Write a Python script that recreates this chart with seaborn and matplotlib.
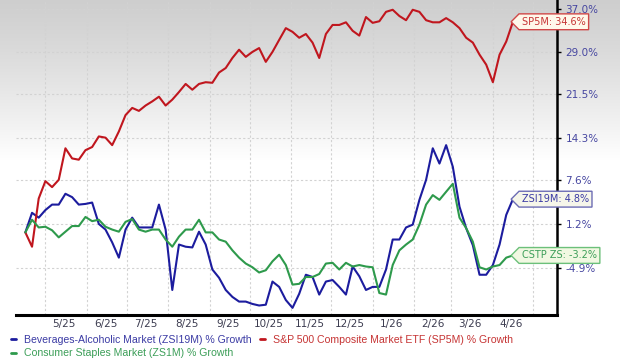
import numpy as np
import pandas as pd
import matplotlib
matplotlib.use("Agg")
import matplotlib.pyplot as plt
import matplotlib.dates as mdates
from matplotlib.path import Path
from matplotlib.lines import Line2D
import seaborn as sns

# sampled every 5 calendar days, mid-April 2025 -> mid-April 2026
dates = pd.date_range("2025-04-16", periods=74, freq="5D")

sp5m = [0.0, -2.0, 4.9, 7.5, 6.6, 7.7, 12.6, 11.0, 10.8, 12.3,
        12.8, 14.5, 14.3, 13.1, 15.3, 18.0, 19.2, 18.7, 19.6, 20.3,
        21.1, 19.6, 20.6, 21.9, 23.3, 22.3, 23.3, 23.6, 23.5, 25.3,
        26.1, 27.9, 29.4, 28.1, 29.0, 29.7, 27.2, 29.0, 31.2, 33.4,
        32.7, 31.6, 32.3, 30.7, 27.9, 32.3, 34.0, 34.0, 34.5, 32.9,
        32.0, 35.5, 34.4, 34.7, 36.5, 36.9, 35.7, 34.9, 36.9, 36.5,
        34.9, 34.5, 34.5, 35.3, 34.5, 33.4, 31.6, 30.7, 28.5, 26.7,
        23.6, 28.5, 30.9, 34.6]

zsi19m = [0.0, 2.8, 2.1, 3.2, 4.0, 4.0, 5.6, 5.1, 4.0, 4.1,
          4.3, 1.2, 0.4, -1.4, -3.5, 0.4, 2.1, 0.7, 0.7, 0.7,
          4.0, 0.4, -7.8, -1.7, -2.0, -2.1, 0.1, -1.7, -5.1, -6.2,
          -7.8, -8.7, -9.3, -9.3, -9.6, -9.8, -9.7, -6.7, -7.4, -9.1,
          -10.1, -8.3, -5.8, -6.1, -8.4, -6.7, -6.5, -7.4, -8.4, -4.7,
          -6.0, -7.8, -7.4, -7.4, -5.1, -1.0, -1.0, 0.7, 1.1, 4.7,
          7.7, 12.6, 10.2, 13.1, 9.7, 3.7, 0.6, -1.8, -5.8, -5.8,
          -4.5, -1.7, 2.5, 4.8]

zs1m = [0.0, 1.8, 0.7, 0.8, 0.3, -0.7, 0.1, 0.9, 0.9, 2.2,
        1.6, 1.8, 0.8, 0.4, 0.1, 1.5, 1.9, 0.4, 0.1, 0.4,
        0.4, -1.0, -2.0, -0.6, 0.4, 0.4, 1.8, 0.0, 0.0, -1.0,
        -1.3, -2.5, -3.5, -4.3, -4.8, -5.5, -5.2, -4.0, -3.1, -4.5,
        -7.1, -7.0, -6.1, -6.1, -5.7, -4.3, -4.2, -5.1, -4.2, -4.7,
        -4.5, -4.7, -4.8, -8.2, -8.4, -4.5, -2.5, -1.7, -1.0, 1.1,
        4.0, 5.4, 4.7, 5.9, 7.1, 2.1, 0.6, -1.3, -4.8, -5.1,
        -4.7, -4.5, -3.5, -3.2]

series_names = [
    "Beverages-Alcoholic Market (ZSI19M) % Growth",
    "S&P 500 Composite Market ETF (SP5M) % Growth",
    "Consumer Staples Market (ZS1M) % Growth",
]
line_colors = ["#1c1c9e", "#c0161e", "#2e9a4c"]
text_colors = ["#3b3ba4", "#c63434", "#3c9e58"]

callout_texts = ["ZSI19M: 4.8%", "SP5M: 34.6%", "CSTP ZS: -3.2%"]
callout_faces = ["#f6f6ea", "#fff8ea", "#f1f8e2"]
callout_edges = ["#6c6cb4", "#d04848", "#6cc07a"]

y_ticks = [37.0, 29.0, 21.5, 14.3, 7.6, 1.2, -4.9]
month_labels = ["5/25", "6/25", "7/25", "8/25", "9/25", "10/25",
                "11/25", "12/25", "1/26", "2/26", "3/26", "4/26"]

df = pd.DataFrame({
    "date": np.tile(dates, 3),
    "growth": zsi19m + sp5m + zs1m,
    "series": np.repeat(series_names, len(dates)),
})

sns.set_style("white")
plt.rcParams["font.family"] = ["DejaVu Sans"]

fig = plt.figure(figsize=(6.2, 3.64), dpi=100)

# grey-to-white backdrop over the top part of the figure
bg = fig.add_axes([0, 0, 1, 1], zorder=-1)
h = 364
ramp = np.ones(h)
fade = 160
ramp[:fade] = 0.81 + 0.19 * (np.arange(fade) / fade) ** 1.2
img = np.repeat(ramp[:, None], 2, axis=1)
bg.imshow(np.stack([img, img, img], axis=-1), aspect="auto",
          extent=[0, 1, 0, 1], transform=bg.transAxes)
bg.set_axis_off()

ax = fig.add_axes([16 / 620, 49 / 364, (557 - 16) / 620, 315 / 364])
ax.set_facecolor("none")

sns.lineplot(data=df, x="date", y="growth", hue="series",
             palette=dict(zip(series_names, line_colors)),
             hue_order=series_names, linewidth=1.5, legend=False, ax=ax)

ax.set_yscale("function", functions=(lambda v: np.log1p(np.asarray(v) / 100),
                                     lambda t: np.expm1(np.asarray(t)) * 100))
ax.set_ylim(-11.0, 38.8)
ax.set_xlim(pd.Timestamp("2025-04-09"), pd.Timestamp("2026-05-19"))

ax.yaxis.tick_right()
ax.set_yticks(y_ticks)
ax.set_yticklabels([f"{v:.1f}%" for v in y_ticks])
ax.tick_params(axis="y", which="major", right=True, length=3, width=1,
               color="black", pad=3, labelsize=7.5, labelcolor="#4646a0")

month_starts = pd.date_range("2025-05-01", periods=13, freq="MS")
mid_months = pd.date_range("2025-05-01", periods=12, freq="MS") + pd.Timedelta(days=14)
ax.set_xticks(mdates.date2num(mid_months))
ax.set_xticklabels(month_labels)
ax.set_xticks(mdates.date2num(month_starts), minor=True)
ax.tick_params(axis="x", which="both", length=0, pad=3, labelsize=7.5,
               labelcolor="#3c3c50")

ax.grid(False)
ax.grid(True, axis="x", which="minor", color="#d2d2d2", linestyle=(0, (2, 2)), lw=0.8)
ax.grid(True, axis="y", which="major", color="#d2d2d2", linestyle=(0, (2, 2)), lw=0.8)
ax.set_xlabel("")
ax.set_ylabel("")

for side in ["left", "top"]:
    ax.spines[side].set_visible(False)
ax.spines["right"].set_color("black")
ax.spines["right"].set_linewidth(1.8)
ax.spines["bottom"].set_color("black")
ax.spines["bottom"].set_linewidth(2.2)


def tag_box(x0, y0, width, height, mutation_size):
    pad = 0.3 * mutation_size
    x0, y0 = x0 - pad, y0 - pad
    x1, y1 = x0 + width + 2 * pad, y0 + height + 2 * pad
    tip = (y1 - y0) / 2
    ym = (y0 + y1) / 2
    return Path([(x0, y0), (x1, y0), (x1, y1), (x0, y1), (x0 - tip, ym), (x0, y0)],
                closed=True)


last_values = [zsi19m[-1], sp5m[-1], zs1m[-1]]
for txt, val, tc, fc, ec in zip(callout_texts, last_values, text_colors,
                                callout_faces, callout_edges):
    ax.annotate(txt, xy=(dates[-1], val), xytext=(6.5, 0), textcoords="offset points",
                ha="left", va="center", fontsize=7, color=tc, zorder=5,
                annotation_clip=False,
                bbox=dict(boxstyle=tag_box, fc=fc, ec=ec, lw=1.0))

handles = [Line2D([], [], color=c, lw=2) for c in line_colors]
order = [0, 2, 1]
fig.legend([handles[i] for i in order], [series_names[i] for i in order],
           loc="upper left", bbox_to_anchor=(0.018, 0.081), ncol=2, frameon=False,
           handlelength=0.5, handletextpad=0.7, columnspacing=0.8,
           labelspacing=0.35, borderaxespad=0, borderpad=0,
           prop={"family": "Liberation Sans", "size": 7.6},
           labelcolor=[text_colors[i] for i in order])

fig.savefig("out.png", dpi=100)
